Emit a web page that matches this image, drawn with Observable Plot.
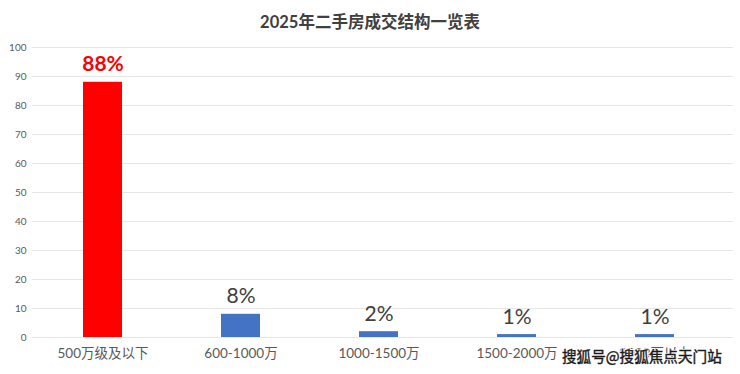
<!DOCTYPE html>
<html>
<head>
<meta charset="utf-8">
<script src="https://cdn.jsdelivr.net/npm/d3@7"></script>
<script src="https://cdn.jsdelivr.net/npm/@observablehq/plot@0.6"></script>
<style>
  html, body { margin: 0; padding: 0; background: #fff; }
  #wrap { position: relative; width: 740px; height: 374px; overflow: hidden; font-family: Lato, "Noto Sans CJK SC", sans-serif; }
  #title { position: absolute; left: 0; top: 9px; width: 740px; text-align: center; font-size: 16.5px; font-weight: bold; color: #404040; font-family: Lato, "Noto Sans CJK SC", sans-serif; }
  #wm { position: absolute; left: 562px; top: 346px; white-space: nowrap; font-size: 14.6px; line-height: 20px; color: #1a1a1a; font-family: "Noto Sans CJK SC", sans-serif; -webkit-text-stroke: 0.4px #1a1a1a; text-shadow: 0 0 2px #fff, 1px 1px 0 #fff, -1px -1px 0 #fff, 1px -1px 0 #fff, -1px 1px 0 #fff; }
</style>
</head>
<body>
<div id="wrap">
  <div id="chart"></div>
  <div id="title">2025年二手房成交结构一览表</div>
  <div id="wm">搜狐号@搜狐焦点天门站</div>
</div>
<script>
const categories = ["500万级及以下", "600-1000万", "1000-1500万", "1500-2000万", "2000万以上"];
const values = [88, 8, 2, 1, 1];
const valueLabels = ["88%", "8%", "2%", "1%", "1%"];
const yTicks = [0, 10, 20, 30, 40, 50, 60, 70, 80, 90, 100];

const data = categories.map((c, i) => ({cat: c, v: values[i], label: valueLabels[i], first: i === 0}));

const chart = Plot.plot({
  width: 740,
  height: 374,
  marginTop: 47,
  marginBottom: 37,
  marginLeft: 32,
  marginRight: 14,
  style: {fontFamily: 'Lato, "Noto Sans CJK SC", sans-serif', background: "#fff"},
  x: {domain: categories, paddingInner: 0.714, paddingOuter: 0.356, label: null},
  y: {domain: [0, 100], label: null},
  marks: [
    Plot.ruleY(yTicks, {stroke: "#e6e6e6", strokeWidth: 1, insetRight: -7}),
    Plot.axisY({ticks: yTicks, tickSize: 0, tickPadding: 6, fontSize: 10, fill: "#595959", label: null}),
    Plot.axisX({tickSize: 0, tickPadding: 11, fontSize: 13.5, fill: "#595959", label: null}),
    Plot.barY(data, {x: "cat", y: "v", fill: d => d.first ? "#ff0000" : "#4472c4"}),
    Plot.text(data.filter(d => d.first), {x: "cat", y: "v", text: "label", fill: "#ff0000", fontWeight: "bold", fontSize: 21, lineAnchor: "bottom", dy: -11}),
    Plot.text(data.filter(d => !d.first), {x: "cat", y: "v", text: "label", fill: "#404040", fontSize: 21, lineAnchor: "bottom", dy: -11})
  ]
});
document.getElementById("chart").appendChild(chart);
</script>
</body>
</html>
